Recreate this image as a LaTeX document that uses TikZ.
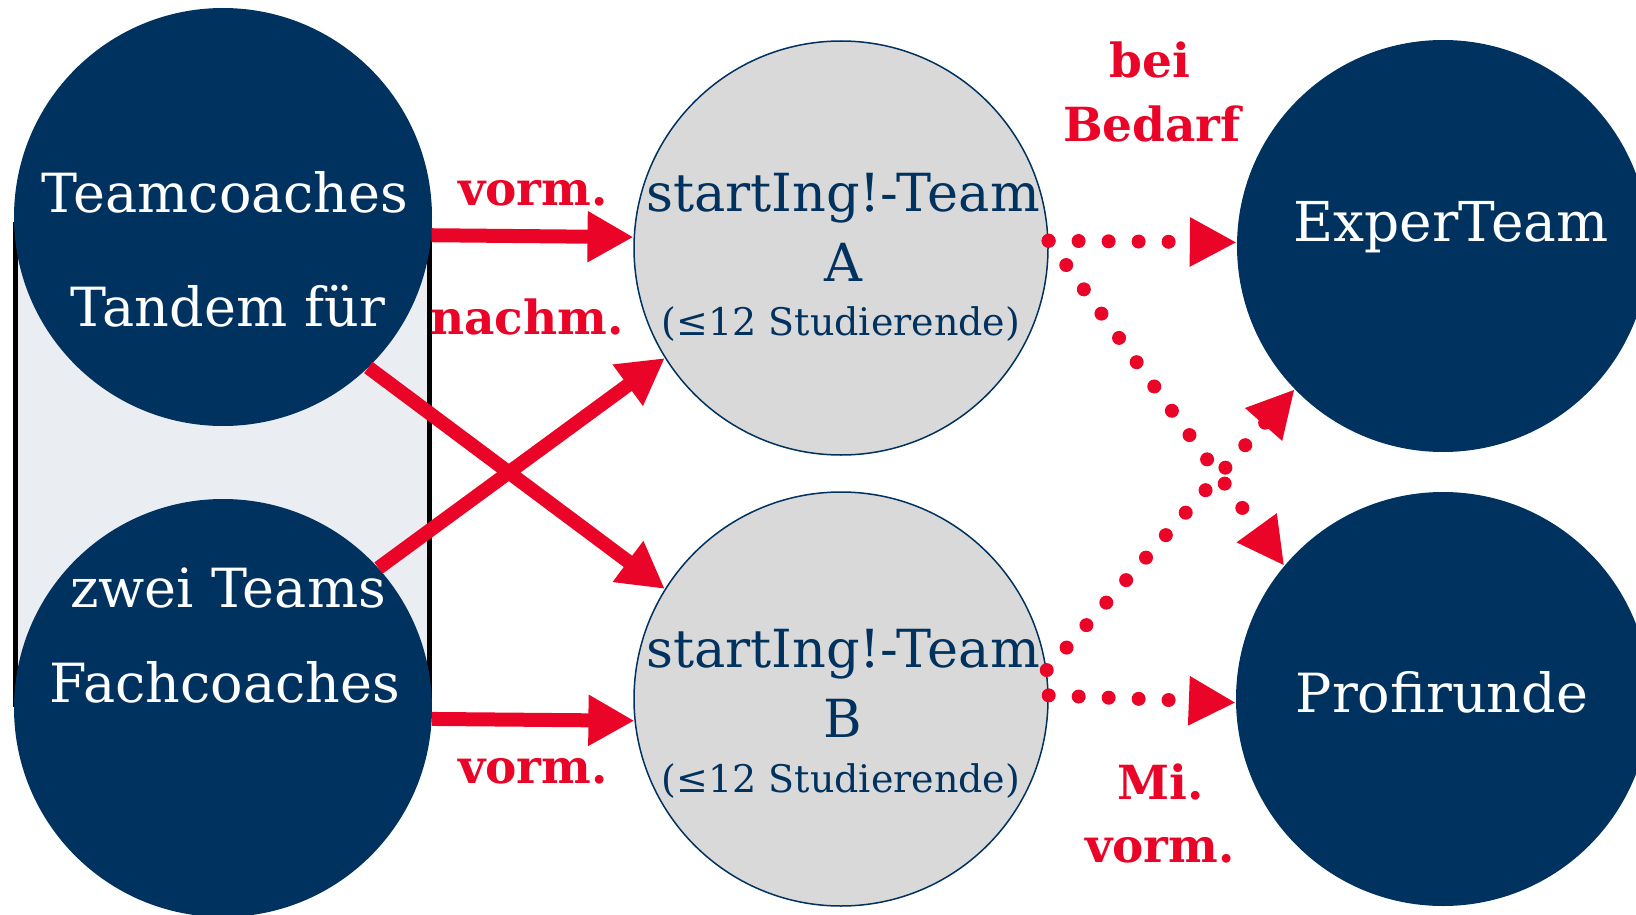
\documentclass[tikz,border=0pt]{standalone}
\usepackage{fontspec}
\setmainfont{DejaVu Serif}
\usetikzlibrary{arrows.meta}
\definecolor{navy}{RGB}{0,50,95}
\definecolor{ared}{RGB}{233,4,40}
\definecolor{lgrey}{RGB}{217,217,217}
\definecolor{boxgrey}{RGB}{234,238,242}
\begin{document}
\begin{tikzpicture}[x=1pt,y=-1pt,
  coachcirc/.style={circle, fill=navy, minimum size=418pt, inner sep=0pt},
  teamcirc/.style={circle, fill=lgrey, draw=navy, line width=1.5pt, minimum size=414pt, inner sep=0pt},
  wtext/.style={text=white, font=\fontsize{54}{58}\selectfont, inner sep=0pt, anchor=base},
  btext/.style={text=navy, font=\fontsize{52.5}{58}\selectfont, inner sep=0pt, anchor=base},
  stext/.style={text=navy, font=\fontsize{38}{42}\selectfont, inner sep=0pt, anchor=base},
  rlabel/.style={text=ared, font=\bfseries\fontsize{47}{52}\selectfont, inner sep=0pt, anchor=base},
  solidarrow/.style={draw=ared, line width=14pt, -{Triangle[length=46pt, width=48pt]}},
  dotarrow/.style={draw=ared, line width=14pt, line cap=round, dash pattern=on 0pt off 30pt, -{Triangle[length=47pt, width=46pt]}}
]
\useasboundingbox (0,0) rectangle (1636,915);
% frame behind the coach circles
\node (frame) [draw=black, line width=5pt, fill=boxgrey, minimum width=414pt, minimum height=480pt, inner sep=0pt] at (222,464) {};
% circles
\node (tc) [coachcirc] at (223,217) {};
\node (fc) [coachcirc] at (223,708) {};
\node (A) [teamcirc] at (841,248) {};
\node (B) [teamcirc] at (841,699) {};
\node (E) [coachcirc, minimum size=412pt] at (1443,246) {};
\node (P) [coachcirc, minimum size=414pt] at (1443,699) {};
% texts
\node (t1) [wtext] at (225,212) {Teamcoaches};
\node (t2) [wtext] at (228,326) {Tandem für};
\node (t3) [wtext] at (228,607) {zwei Teams};
\node (t4) [wtext] at (225,702) {Fachcoaches};
\node (a1) [btext] at (843,211) {startIng!-Team};
\node (a2) [btext] at (843,281) {A};
\node (a3) [stext] at (841,335) {(≤12 Studierende)};
\node (b1) [btext] at (843,667) {startIng!-Team};
\node (b2) [btext] at (843,737) {B};
\node (b3) [stext] at (841,792) {(≤12 Studierende)};
\node (e1) [wtext, font=\fontsize{55}{60}\selectfont] at (1451,241) {ExperTeam};
\node (p1) [wtext] at (1442,712) {Profirunde};
% labels
\node (l1) [rlabel] at (533,205) {vorm.};
\node (l2) [rlabel] at (527,334) {nachm.};
\node (l3) [rlabel] at (533,783) {vorm.};
\node (l4) [rlabel] at (1150,78) {bei};
\node (l5) [rlabel] at (1152,142) {Bedarf};
\node (l6) [rlabel] at (1161,799) {Mi.};
\node (l7) [rlabel] at (1160,862) {vorm.};
% solid arrows
\draw[solidarrow] (tc.-5) -- (A.177);
\draw[solidarrow] (fc.-3) -- (B.186);
\draw[solidarrow] (tc.-46) -- (B.148);
\draw[solidarrow] (fc.42) -- (A.212);
% dotted arrows
\draw[dotarrow] (A.2) -- (E.179);
\draw[dotarrow] (A.2) -- (P.140);
\draw[dotarrow] (B.8) -- (E.224);
\draw[dotarrow] (B.1) -- (P.181);
\end{tikzpicture}
\end{document}
